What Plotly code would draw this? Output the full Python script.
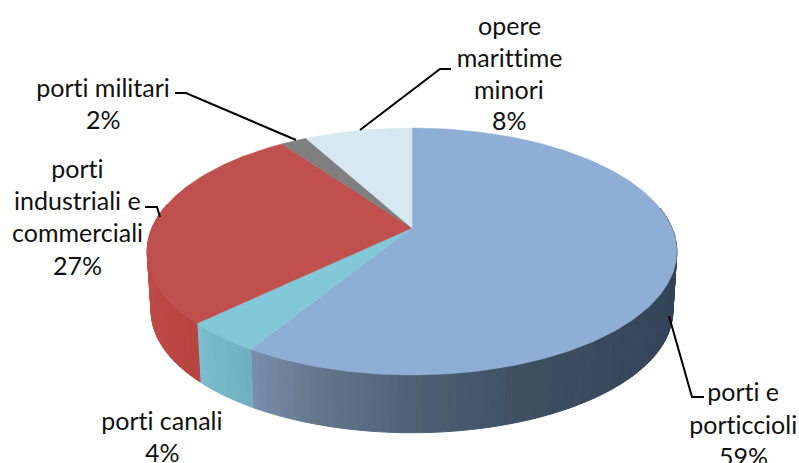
import math
import plotly.graph_objects as go

# Data (unrounded estimates; they print as 59, 4, 27, 2, 8)
labels = ["porti e porticcioli", "porti canali", "porti industriali e commerciali", "porti militari", "opere marittime minori"]
values = [58.7, 4.05, 27.45, 1.9, 7.9]
top_colors = ["#8faed6", "#82c8d8", "#c0504d", "#7f7f7f", "#d6e8f1"]
# Side-wall shading stops per slice: (fraction across the slice, colour)
side_stops = [
    [(0.0, "#2f3f55"), (0.35, "#35465b"), (0.6, "#3e4f62"), (0.76, "#4f6176"), (0.9, "#66798f"), (1.0, "#7a8fb0")],
    [(0.0, "#6fb0c0"), (1.0, "#7cbdd0")],
    [(0.0, "#b8443f"), (0.5, "#bd4a46"), (1.0, "#c0504d")],
]
# Label layout: centre x and the y of each text line
label_x = [743, 162, 77, 103, 509]
label_lines = [[391, 424, 456], [420, 452], [168, 200, 232, 265], [87, 119], [25, 57, 89, 120]]
label_split = [["porti e", "porticcioli"], ["porti canali"], ["porti", "industriali e", "commerciali"], ["porti militari"], ["opere", "marittime", "minori"]]
leaders = [
    "M 669 316 L 692 397 L 704 397",
    "M 160 217 L 157 207 L 145 207",
    "M 296 140 L 186 93 L 175 93",
    "M 360 130 L 440 69 L 451 69",
]

# Projection of the tilted disc
CX, CY, A, B, K = 412, 228, 260, 119, 0.19
DEPTH = 60


def proj(deg, r=1.0, dy=0.0, s=1.0):
    a = math.radians(deg)
    u, v = r * math.sin(a), -r * math.cos(a)
    w = 1 - K * v
    return CX + s * A * u / w, CY + s * B * v / w + dy


def hex2rgb(h):
    return tuple(int(h[i:i + 2], 16) for i in (1, 3, 5))


def shade(stops, t):
    for (t0, c0), (t1, c1) in zip(stops, stops[1:]):
        if t <= t1:
            f = (t - t0) / (t1 - t0) if t1 > t0 else 0
            c = [round(p + (q - p) * f) for p, q in zip(hex2rgb(c0), hex2rgb(c1))]
            return "rgb(%d,%d,%d)" % tuple(c)
    return stops[-1][1]


fig = go.Figure()
total = sum(values)
bounds = [0.0]
for val in values:
    bounds.append(bounds[-1] + 360.0 * val / total)

# Side wall, drawn as narrow strips
for i, stops in enumerate(side_stops):
    a0, a1 = max(bounds[i], 80.0), min(bounds[i + 1], 282.0)
    if a1 <= a0:
        continue
    n = max(2, int((a1 - a0) / 1.5))
    for j in range(n):
        b0 = a0 + (a1 - a0) * j / n
        b1 = a0 + (a1 - a0) * (j + 1) / n
        p00 = proj(b0)
        p01 = proj(b1)
        p10 = proj(b0, dy=DEPTH, s=0.985)
        p11 = proj(b1, dy=DEPTH, s=0.985)
        col = shade(stops, (b0 - a0) / (a1 - a0))
        fig.add_trace(go.Scatter(
            x=[p00[0], p01[0], p11[0], p10[0], p00[0]],
            y=[p00[1], p01[1], p11[1], p10[1], p00[1]],
            mode="lines", fill="toself", fillcolor=col,
            line=dict(color=col, width=1), hoverinfo="skip", showlegend=False))

# Top faces
for i, col in enumerate(top_colors):
    n = max(4, int((bounds[i + 1] - bounds[i]) / 1.0))
    pts = [proj(bounds[i] + (bounds[i + 1] - bounds[i]) * j / n) for j in range(n + 1)]
    xs = [CX] + [p[0] for p in pts] + [CX]
    ys = [CY] + [p[1] for p in pts] + [CY]
    fig.add_trace(go.Scatter(
        x=xs, y=ys, mode="lines", fill="toself", fillcolor=col,
        line=dict(color=col, width=0.5), name=labels[i],
        hoverinfo="name", showlegend=False))

annotations = []
for i, lines_y in enumerate(label_lines):
    texts = label_split[i] + ["%d%%" % round(values[i])]
    for t, y in zip(texts, lines_y):
        annotations.append(dict(x=label_x[i], y=y, text=t, xref="x", yref="y",
                                showarrow=False, xanchor="center", yanchor="middle",
                                font=dict(family="Lato", size=25, color="#111111")))

shapes = [dict(type="path", path=p, xref="x", yref="y", line=dict(color="#000000", width=2)) for p in leaders]

fig.update_layout(
    width=799, height=463, margin=dict(l=0, r=0, t=0, b=0),
    paper_bgcolor="white", plot_bgcolor="white",
    xaxis=dict(range=[0, 799], visible=False, fixedrange=True),
    yaxis=dict(range=[463, 0], visible=False, fixedrange=True),
    annotations=annotations, shapes=shapes, showlegend=False,
)
post = ("document.body.style.margin='0';document.body.style.overflow='hidden';"
        "var s=document.createElement('style');"
        "s.textContent='text{font-variant-ligatures:none !important}';"
        "document.head.appendChild(s);")
fig.write_html("out.html", config=dict(displayModeBar=False), post_script=post)
